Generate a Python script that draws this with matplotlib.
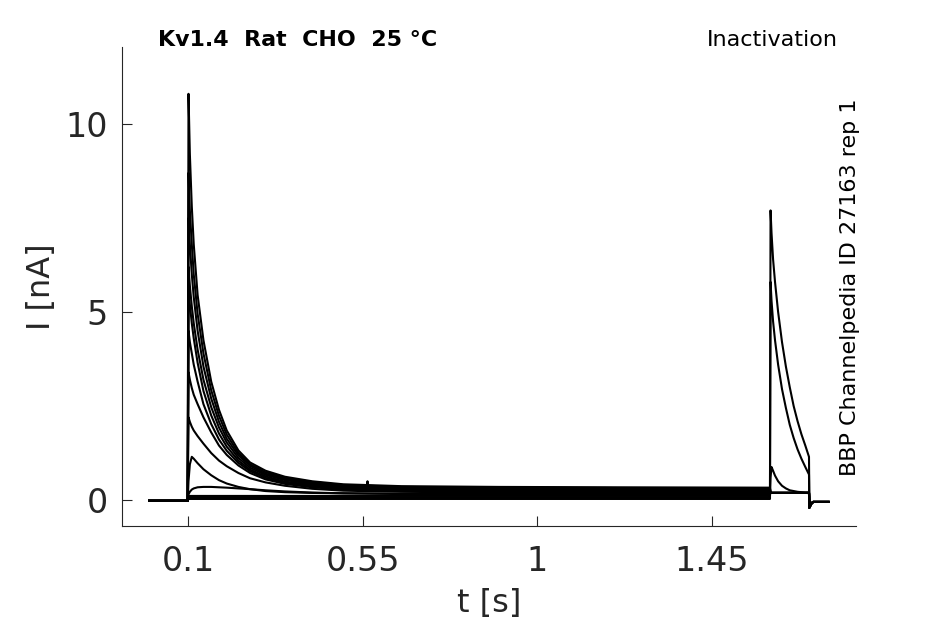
import matplotlib
matplotlib.use('Agg')
import matplotlib.pyplot as plt
import numpy as np

# time points (s) for the prepulse part of each sweep
t_pre = [0.0, 0.0995, 0.1015, 0.105, 0.11, 0.115, 0.125, 0.14, 0.16, 0.18, 0.2,
         0.23, 0.26, 0.3, 0.35, 0.42, 0.5, 0.65, 0.9, 1.2, 1.599]
# time points (s) for the test pulse part
t_test = [1.6005, 1.603, 1.607, 1.612, 1.62, 1.63, 1.64, 1.65, 1.66, 1.67, 1.68,
          1.69, 1.6995, 1.7005, 1.705, 1.71, 1.75]

# current (nA) during the prepulse, one list per sweep
pre_a = [-0.02, -0.02, 10.8, 9.2, 7.8, 6.8, 5.45, 4.25, 3.15, 2.4, 1.85, 1.32, 1.0, 0.78, 0.62, 0.5, 0.42, 0.37, 0.35, 0.34, 0.33]
pre_b = [-0.02, -0.02, 8.7, 7.7, 6.8, 6.0, 4.95, 3.9, 2.92, 2.24, 1.74, 1.25, 0.95, 0.74, 0.59, 0.48, 0.40, 0.35, 0.33, 0.32, 0.31]
pre_c = [-0.02, -0.02, 7.5, 6.8, 6.0, 5.4, 4.5, 3.55, 2.7, 2.08, 1.63, 1.19, 0.91, 0.7, 0.56, 0.45, 0.38, 0.33, 0.31, 0.30, 0.29]
pre_d = [-0.02, -0.02, 6.2, 5.7, 5.15, 4.7, 4.0, 3.2, 2.47, 1.93, 1.53, 1.12, 0.86, 0.67, 0.53, 0.43, 0.36, 0.31, 0.29, 0.28, 0.27]
pre_e = [-0.02, -0.02, 5.6, 5.2, 4.7, 4.3, 3.65, 2.9, 2.25, 1.77, 1.42, 1.05, 0.81, 0.63, 0.49, 0.4, 0.34, 0.29, 0.27, 0.26, 0.25]
pre_f = [-0.02, -0.02, 4.5, 4.2, 3.9, 3.6, 3.15, 2.55, 2.02, 1.61, 1.31, 0.99, 0.77, 0.59, 0.46, 0.37, 0.31, 0.27, 0.25, 0.24, 0.23]
pre_g = [-0.02, -0.02, 3.4, 3.2, 2.98, 2.8, 2.55, 2.2, 1.8, 1.45, 1.2, 0.92, 0.72, 0.55, 0.43, 0.34, 0.28, 0.24, 0.22, 0.21, 0.21]
pre_h = [-0.02, -0.02, 2.2, 2.08, 1.95, 1.85, 1.7, 1.5, 1.25, 1.05, 0.9, 0.72, 0.58, 0.47, 0.38, 0.3, 0.25, 0.22, 0.2, 0.19, 0.19]
pre_i = [-0.02, -0.02, 0.5, 0.95, 1.15, 1.1, 0.98, 0.82, 0.66, 0.53, 0.44, 0.35, 0.29, 0.24, 0.21, 0.19, 0.18, 0.17, 0.17, 0.17, 0.17]
pre_j = [-0.02, -0.02, 0.15, 0.22, 0.28, 0.31, 0.34, 0.35, 0.35, 0.34, 0.33, 0.31, 0.29, 0.26, 0.23, 0.2, 0.18, 0.16, 0.15, 0.15, 0.15]
pre_k = [-0.02, -0.02, 0.11, 0.11, 0.11, 0.11, 0.11, 0.11, 0.11, 0.11, 0.11, 0.11, 0.11, 0.11, 0.11, 0.11, 0.11, 0.11, 0.11, 0.11, 0.11]
pre_l = [-0.02, -0.02, 0.07, 0.07, 0.07, 0.07, 0.07, 0.07, 0.07, 0.07, 0.07, 0.07, 0.07, 0.07, 0.07, 0.07, 0.07, 0.07, 0.07, 0.07, 0.07]
pre_m = [-0.02, -0.02, 0.03, 0.03, 0.03, 0.03, 0.03, 0.03, 0.03, 0.03, 0.03, 0.03, 0.03, 0.03, 0.03, 0.03, 0.03, 0.03, 0.03, 0.03, 0.03]

# current (nA) during the test pulse
test_flat = [0.19, 0.19, 0.19, 0.19, 0.19, 0.19, 0.19, 0.19, 0.19, 0.19, 0.19, 0.19, 0.19, -0.2, -0.1, -0.05, -0.05]
test_k = [0.60, 0.88, 0.78, 0.65, 0.5, 0.38, 0.31, 0.26, 0.24, 0.22, 0.21, 0.20, 0.20, -0.2, -0.1, -0.05, -0.05]
test_l = [5.8, 5.3, 4.75, 4.25, 3.6, 2.95, 2.45, 2.0, 1.65, 1.35, 1.1, 0.88, 0.68, -0.2, -0.1, -0.05, -0.05]
test_m = [7.7, 7.1, 6.4, 5.8, 5.0, 4.2, 3.55, 3.0, 2.5, 2.1, 1.75, 1.45, 1.15, -0.2, -0.1, -0.05, -0.05]

# small artifact in one sweep
spike_t = [0.561, 0.5625, 0.564]
spike_i = [0.25, 0.5, 0.25]

sweeps = [(pre_a, test_flat), (pre_b, test_flat), (pre_c, test_flat), (pre_d, test_flat),
          (pre_e, test_flat), (pre_f, test_flat), (pre_g, test_flat), (pre_h, test_flat),
          (pre_i, test_flat), (pre_j, test_flat), (pre_k, test_k), (pre_l, test_l),
          (pre_m, test_m)]

gray = '#262626'
fig = plt.figure(figsize=(9.45, 6.24), dpi=100)
ax = fig.add_axes([0.129, 0.157, 0.777, 0.768])

for pre, test in sweeps:
    ax.plot(t_pre + t_test, pre + test, color='black', lw=1.5)
ax.plot(spike_t, spike_i, color='black', lw=1.5)

ax.set_xlim(-0.070, 1.821)
ax.set_ylim(-0.69, 12.05)
ax.set_xticks([0.1, 0.55, 1, 1.45])
ax.set_xticklabels(['0.1', '0.55', '1', '1.45'])
ax.set_yticks([0, 5, 10])
ax.tick_params(direction='in', length=7, width=0.8, colors=gray, labelsize=24)
ax.tick_params(axis='x', pad=14)
ax.tick_params(axis='y', pad=10)
for s in ['top', 'right']:
    ax.spines[s].set_visible(False)
for s in ['left', 'bottom']:
    ax.spines[s].set_color(gray)
    ax.spines[s].set_linewidth(0.8)

ax.set_xlabel('t [s]', fontsize=23, color=gray, labelpad=7)
ax.set_ylabel('I [nA]', fontsize=23, color=gray, labelpad=6)

fig.text(0.167, 0.936, 'Kv1.4  Rat  CHO  25 °C', fontsize=15.9, fontweight='bold', va='center', ha='left')
fig.text(0.887, 0.936, 'Inactivation', fontsize=16, va='center', ha='right')
fig.text(0.899, 0.54, 'BBP Channelpedia ID 27163 rep 1', fontsize=16, rotation=90, va='center', ha='center')

fig.savefig('out.png', dpi=100)
